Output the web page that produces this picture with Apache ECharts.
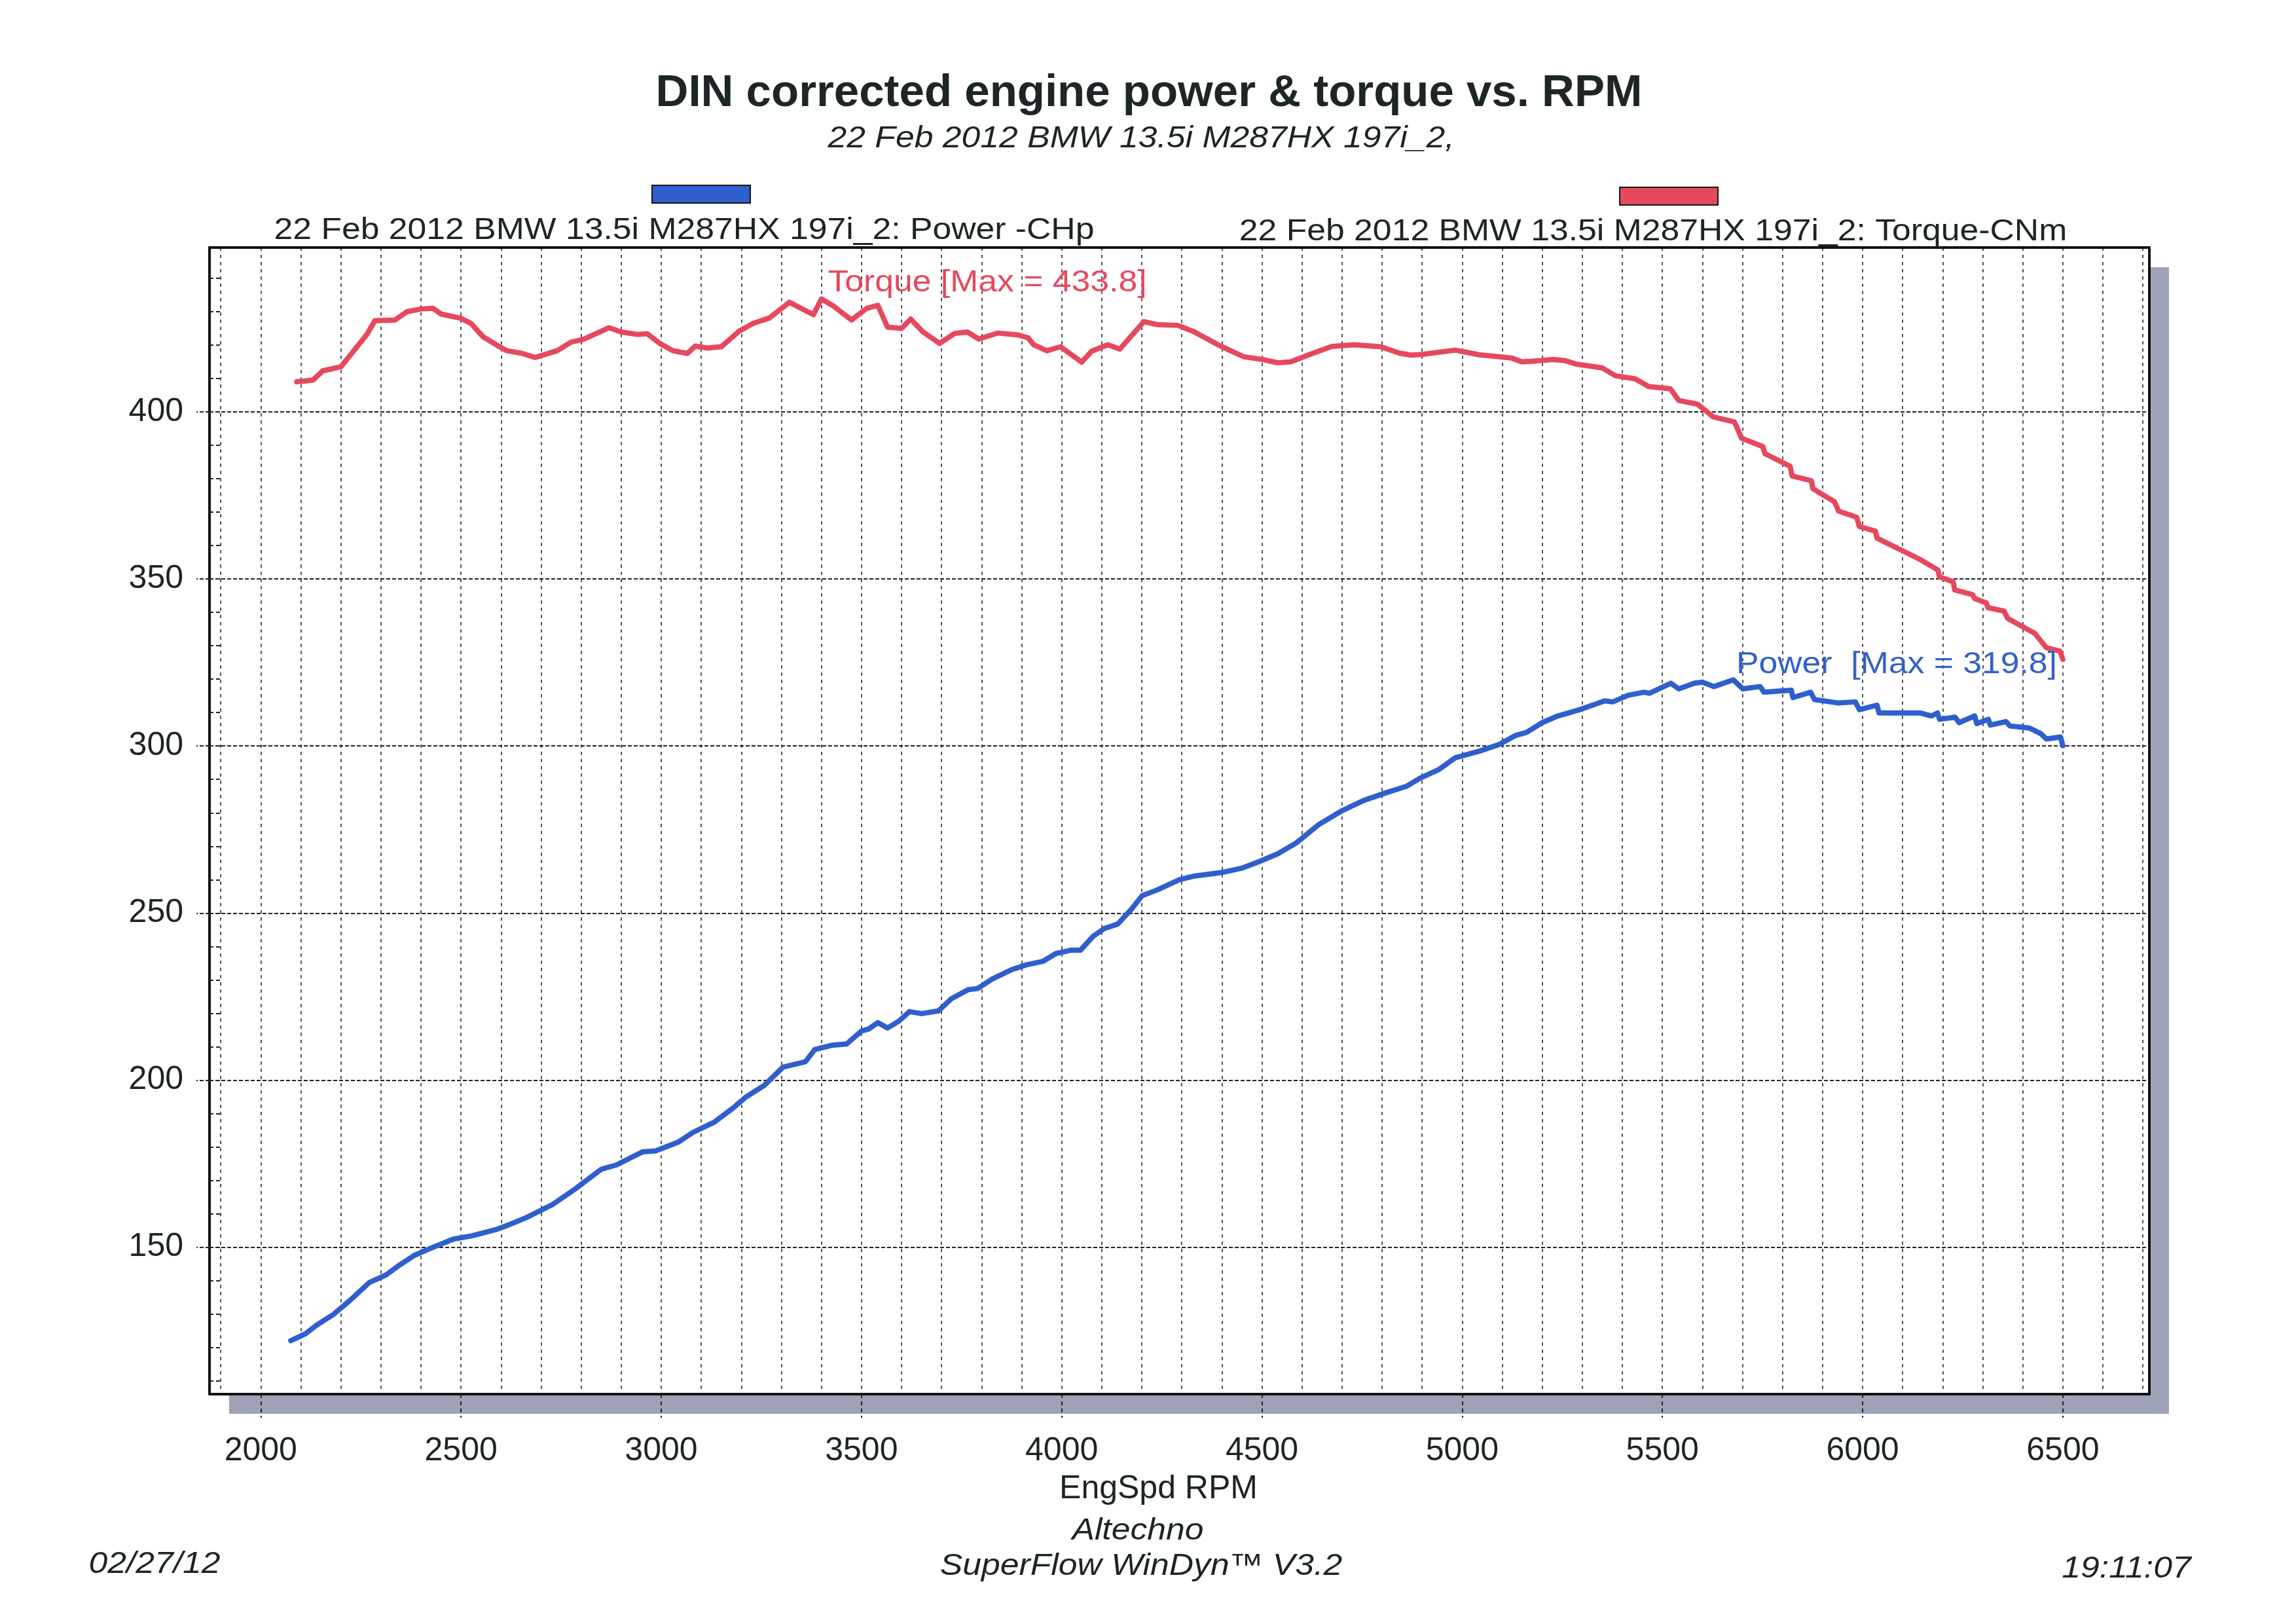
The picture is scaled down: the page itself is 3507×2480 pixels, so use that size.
<!DOCTYPE html>
<html>
<head>
<meta charset="utf-8">
<script src="https://cdn.jsdelivr.net/npm/echarts@6/dist/echarts.min.js"></script>
<style>
html,body{margin:0;padding:0;background:#fff;}
#chart{width:3507px;height:2480px;}
</style>
</head>
<body>
<div id="chart"></div>
<script>
// ---- data ----
const rpmTorque = [2090,2130,2155,2200,2265,2285,2335,2365,2400,2430,2450,2500,2525,2555,2595,2615,2650,2685,2740,2775,2805,2870,2900,2940,2965,2995,3030,3065,3085,3115,3150,3195,3230,3270,3320,3380,3400,3430,3475,3513,3541,3565,3600,3623,3653,3695,3733,3765,3793,3840,3888,3916,3930,3963,3997,4050,4075,4115,4145,4205,4240,4290,4330,4395,4455,4500,4540,4572,4628,4675,4730,4797,4843,4872,4900,4983,5013,5042,5100,5124,5149,5178,5226,5255,5285,5349,5383,5432,5466,5520,5541,5588,5627,5680,5698,5751,5756,5819,5824,5872,5876,5930,5940,5985,5992,6032,6036,6144,6188,6192,6226,6230,6275,6279,6309,6313,6353,6362,6430,6459,6493,6500];
const torqueNm = [409.0,409.5,412.3,413.5,423.2,427.3,427.5,430.0,430.8,431.0,429.3,428.0,426.5,422.5,419.6,418.3,417.6,416.3,418.3,420.9,421.7,425.2,423.9,423.2,423.4,420.6,418.3,417.5,419.7,419.1,419.5,424.2,426.5,428.1,432.8,429.1,433.8,431.7,427.5,431.0,431.9,425.4,425.0,427.8,424.0,420.5,423.5,423.9,421.8,423.6,423.1,422.2,420.1,418.3,419.5,414.9,418.2,420.1,418.8,427.0,426.1,425.9,424.0,419.8,416.5,415.7,414.7,415.0,417.6,419.6,420.1,419.5,417.6,417.0,417.2,418.5,417.8,417.1,416.4,416.1,415.0,415.2,415.7,415.4,414.3,413.2,410.8,409.9,407.6,406.9,403.4,402.3,398.5,397.0,392.1,389.6,387.5,383.7,380.8,379.4,377.0,373.1,370.3,368.5,365.7,364.3,362.2,355.8,352.7,350.6,349.2,346.7,345.3,344.2,342.8,341.4,340.4,338.2,333.7,329.4,328.4,325.9];

const rpmPower = [2075,2112,2140,2182,2224,2271,2313,2346,2383,2421,2481,2528,2589,2626,2664,2729,2785,2850,2888,2953,2986,3042,3080,3131,3178,3210,3257,3304,3360,3383,3425,3463,3500,3518,3541,3565,3593,3620,3650,3692,3725,3767,3790,3827,3874,3912,3954,3986,4024,4047,4079,4107,4140,4173,4201,4238,4294,4332,4398,4449,4493,4539,4586,4642,4698,4754,4810,4862,4894,4941,4983,5044,5093,5132,5161,5200,5239,5297,5356,5376,5415,5454,5468,5521,5541,5580,5600,5629,5677,5701,5744,5754,5822,5826,5870,5880,5938,5982,5992,6036,6041,6143,6172,6187,6192,6231,6241,6280,6285,6314,6319,6358,6368,6416,6445,6459,6494,6500];
const powerCHp = [122.0,124.1,126.7,129.9,134.2,139.4,141.7,144.6,147.5,149.5,152.4,153.4,155.3,157.0,158.9,162.8,167.4,173.3,174.6,178.5,178.8,181.4,184.4,187.3,191.5,194.8,198.4,203.9,205.5,209.1,210.4,210.8,214.7,215.3,217.2,215.6,217.6,220.5,219.9,220.7,224.4,227.1,227.4,230.3,233.0,234.5,235.6,237.9,238.9,238.9,243.1,245.4,246.7,251.0,255.2,256.9,260.0,261.1,262.1,263.4,265.4,267.7,271.0,276.5,280.5,283.7,286.0,288.0,290.3,292.9,296.5,298.5,300.5,303.1,304.1,307.0,309.0,311.0,313.5,313.2,315.2,316.1,315.8,318.8,317.1,318.8,319.1,317.8,319.8,317.1,317.8,316.1,316.7,314.5,316.1,313.9,312.9,313.2,310.9,312.2,309.9,309.9,309.0,309.9,308.0,308.6,307.0,309.0,306.7,308.0,306.3,307.3,306.0,305.4,303.7,302.1,302.7,300.1];

const xTickLabels = [2000,2500,3000,3500,4000,4500,5000,5500,6000,6500];
const xGridValues = [1900,2000,2100,2200,2300,2400,2500,2600,2700,2800,2900,3000,3100,3200,3300,3400,3500,3600,3700,3800,3900,4000,4100,4200,4300,4400,4500,4600,4700,4800,4900,5000,5100,5200,5300,5400,5500,5600,5700,5800,5900,6000,6100,6200,6300,6400,6500,6600,6700];
const yTickLabels = [150,200,250,300,350,400];
const yMinorValues = [110,120,130,140,150,160,170,180,190,200,210,220,230,240,250,260,270,280,290,300,310,320,330,340,350,360,370,380,390,400,410,420,430,440];

const powerName = '22 Feb 2012 BMW 13.5i M287HX 197i_2: Power -CHp';
const torqueName = '22 Feb 2012 BMW 13.5i M287HX 197i_2: Torque-CNm';
const titleText = 'DIN corrected engine power & torque vs. RPM';
const subtitleText = '22 Feb 2012 BMW 13.5i M287HX 197i_2,';
const torqueMaxText = 'Torque [Max = 433.8]';
const powerMaxText = 'Power  [Max = 319.8]';

// ---- chart ----
const FONT = '"Liberation Sans", Arial, Helvetica, sans-serif';
const INK = '#1c2424';
const RED = '#e6495d';
const BLUE = '#2f5fcc';
const FRAME = '#111111';

const chart = echarts.init(document.getElementById('chart'), null, {renderer: 'canvas', width: 3507, height: 2480});

function txt(text, x, y, size, opts) {
  opts = opts || {};
  return {
    type: 'text', x: x, y: y, z: 10,
    scaleX: opts.scaleX || 1,
    style: {
      text: text,
      font: (opts.style || '') + ' ' + (opts.weight || 'normal') + ' ' + size + 'px ' + FONT,
      fill: opts.color || INK,
      align: opts.align || 'center', textAlign: opts.align || 'center',
      verticalAlign: 'middle', textVerticalAlign: 'middle'
    }
  };
}
const SX = 1.1;
const plain = function (v) { return String(v); };

const option = {
  animation: false,
  backgroundColor: '#ffffff',
  textStyle: {fontFamily: FONT},
  grid: {
    left: 320, top: 378, width: 2963, height: 1751,
    show: true, backgroundColor: '#ffffff', borderWidth: 0,
    shadowColor: '#9fa3b7', shadowOffsetX: 30, shadowOffsetY: 30, shadowBlur: 0,
    containLabel: false
  },
  legend: [
    {data: [powerName], left: 995, top: 282, padding: 0, icon: 'rect', itemWidth: 150, itemHeight: 27,
     selectedMode: false, formatter: function(){return '';}, itemStyle: {borderColor: '#151515', borderWidth: 2}},
    {data: [torqueName], left: 2473, top: 285, padding: 0, icon: 'rect', itemWidth: 150, itemHeight: 27,
     selectedMode: false, formatter: function(){return '';}, itemStyle: {borderColor: '#151515', borderWidth: 2}}
  ],
  xAxis: [
    {
      type: 'value', min: 1872, max: 6716, position: 'bottom',
      axisLine: {show: true, onZero: false, lineStyle: {color: FRAME, width: 4}},
      axisTick: {show: true, customValues: xTickLabels, length: 36, lineStyle: {color: '#222', width: 2, type: [6, 5]}},
      axisLabel: {customValues: xTickLabels, formatter: plain, margin: 62, fontSize: 50, color: INK, fontFamily: FONT},
      splitLine: {show: false},
      name: 'EngSpd RPM', nameLocation: 'middle', nameGap: 120,
      nameTextStyle: {fontSize: 50, color: INK, fontFamily: FONT, padding: [0, 64, 0, 0]}
    },
    {
      type: 'value', min: 1872, max: 6716, position: 'top',
      axisLine: {show: true, onZero: false, lineStyle: {color: FRAME, width: 4}},
      axisTick: {show: false, customValues: xGridValues},
      axisLabel: {show: false},
      splitLine: {show: true, lineStyle: {color: '#2a2a2a', width: 1.6, type: [5, 6]}}
    }
  ],
  yAxis: [
    {
      type: 'value', min: 106, max: 449.2, position: 'left',
      axisLine: {show: true, onZero: false, lineStyle: {color: FRAME, width: 4}},
      axisTick: {show: true, customValues: yTickLabels, length: 20, lineStyle: {color: '#222', width: 2, type: [6, 3]}},
      axisLabel: {customValues: yTickLabels, formatter: plain, margin: 40, fontSize: 50, color: INK, fontFamily: FONT},
      splitLine: {show: true, lineStyle: {color: '#222', width: 2, type: [6, 3]}}
    },
    {
      type: 'value', min: 106, max: 449.2, position: 'left',
      axisLine: {show: false},
      axisTick: {show: true, inside: true, customValues: yMinorValues, length: 17, lineStyle: {color: '#222', width: 2, type: [6, 4]}},
      axisLabel: {show: false},
      splitLine: {show: false}
    },
    {
      type: 'value', min: 106, max: 449.2, position: 'right',
      axisLine: {show: true, onZero: false, lineStyle: {color: FRAME, width: 4}},
      axisTick: {show: false},
      axisLabel: {show: false},
      splitLine: {show: false}
    }
  ],
  series: [
    {
      name: powerName, type: 'line', xAxisIndex: 0, yAxisIndex: 0,
      data: rpmPower.map(function(r, i){return [r, powerCHp[i]];}),
      showSymbol: false, symbol: 'none', color: BLUE,
      lineStyle: {color: BLUE, width: 8, join: 'round', cap: 'round'}, z: 4
    },
    {
      name: torqueName, type: 'line', xAxisIndex: 0, yAxisIndex: 0,
      data: rpmTorque.map(function(r, i){return [r, torqueNm[i]];}),
      showSymbol: false, symbol: 'none', color: RED,
      lineStyle: {color: RED, width: 8, join: 'round', cap: 'round'}, z: 4
    }
  ],
  graphic: [
    txt(titleText, 1755, 143, 69, {weight: 'bold', color: '#1c2626'}),
    txt(subtitleText, 1743, 212, 47, {style: 'italic', scaleX: SX}),
    txt(powerName, 1045, 352, 47, {scaleX: SX}),
    txt(torqueName, 2525, 354, 47, {scaleX: SX}),
    txt(torqueMaxText, 1508, 432, 47, {color: RED, scaleX: SX}),
    txt(powerMaxText, 2897, 1015, 47, {color: '#3461c8', scaleX: SX}),
    txt('Altechno', 1738, 2338, 47, {style: 'italic', scaleX: SX}),
    txt('SuperFlow WinDyn\u2122 V3.2', 1743, 2392, 47, {style: 'italic', scaleX: SX}),
    txt('02/27/12', 236, 2389, 47, {style: 'italic', scaleX: SX}),
    txt('19:11:07', 3248, 2396, 47, {style: 'italic', scaleX: SX})
  ]
};
chart.setOption(option);
</script>
</body>
</html>
